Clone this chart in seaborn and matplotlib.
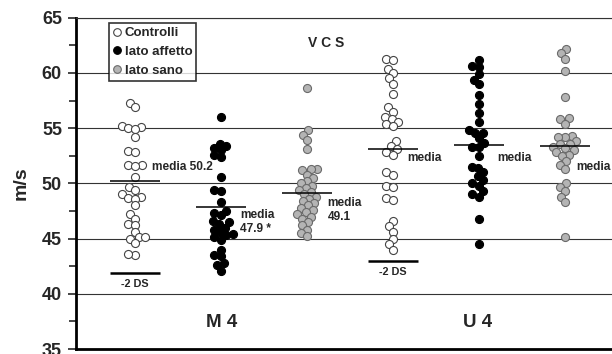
import numpy as np
import pandas as pd
import matplotlib
matplotlib.use("Agg")
import matplotlib.pyplot as plt
import seaborn as sns
from matplotlib.lines import Line2D

sns.set_theme(style="white")
plt.rcParams['font.family'] = ['Liberation Sans', 'DejaVu Sans']
plt.rcParams['font.weight'] = 'bold'

# ---- data ----
nerves = ["M 4", "U 4"]
groups = ["Controlli", "lato affetto", "lato sano"]

m4_controlli = [57.3, 56.9, 55.2, 55.1, 55.0, 54.9, 54.2, 52.9, 52.8, 51.7, 51.7, 51.6,
                50.6, 49.7, 49.4, 49.0, 48.8, 48.7, 48.6, 48.0, 47.2, 46.8, 46.3, 46.2,
                45.6, 45.1, 45.1, 45.0, 44.6, 43.5, 43.6]
m4_affetto = [56.0, 53.6, 53.4, 53.2, 53.0, 52.6, 52.4, 50.6, 49.4, 49.3, 48.3, 47.5,
              47.3, 47.1, 46.6, 46.5, 46.3, 46.0, 45.8, 45.6, 45.4, 45.3, 45.1, 44.9,
              44.0, 43.5, 43.4, 42.8, 42.6, 42.1]
m4_sano = [58.6, 54.8, 54.4, 53.9, 53.1, 51.3, 51.3, 51.2, 50.8, 50.5, 50.2, 50.0,
           49.8, 49.6, 49.4, 49.2, 49.0, 48.8, 48.6, 48.4, 48.2, 48.0, 47.8, 47.6,
           47.4, 47.2, 47.0, 46.8, 46.5, 46.2, 45.8, 45.5, 45.2]
u4_controlli = [61.3, 61.2, 60.4, 60.0, 59.5, 59.0, 58.1, 56.9, 56.5, 56.0, 55.8, 55.6,
                55.4, 55.2, 53.8, 53.4, 53.1, 52.8, 52.6, 51.0, 50.8, 49.8, 49.7, 48.7,
                48.5, 46.6, 46.1, 45.6, 45.0, 44.5, 44.0]
u4_affetto = [61.2, 60.6, 60.5, 59.9, 59.4, 59.0, 58.0, 57.2, 56.4, 55.6, 54.8, 54.6,
              54.6, 54.1, 53.7, 53.3, 53.3, 52.5, 51.5, 51.4, 51.0, 50.7, 50.3, 50.0,
              49.8, 49.3, 49.0, 48.8, 46.8, 44.5]
u4_sano = [62.2, 61.8, 61.3, 60.2, 57.8, 55.9, 55.8, 55.4, 54.3, 54.2, 54.2, 53.8,
           53.6, 53.6, 53.3, 53.2, 53.0, 52.8, 52.6, 52.5, 52.0, 51.7, 51.3, 50.0,
           49.7, 49.3, 48.8, 48.3, 45.1]

means = [50.2, 47.9, 49.1, 53.1, 53.5, 53.4]
mean_labels = ["media 50.2", "media\n47.9 *", "media\n49.1", "media", "media", "media"]
ds_values = {0: 41.9, 3: 43.0}   # -2 DS lines (Controlli)

series = {
    ("M 4", "Controlli"): m4_controlli,
    ("M 4", "lato affetto"): m4_affetto,
    ("M 4", "lato sano"): m4_sano,
    ("U 4", "Controlli"): u4_controlli,
    ("U 4", "lato affetto"): u4_affetto,
    ("U 4", "lato sano"): u4_sano,
}

rows = []
for (n, g), vals in series.items():
    for v in vals:
        rows.append({"col": f"{n} {g}", "nerve": n, "group": g, "value": v})
df = pd.DataFrame(rows)
order = [f"{n} {g}" for n in nerves for g in groups]

styles = {
    "Controlli": dict(color="white", edgecolor="#444444"),
    "lato affetto": dict(color="black", edgecolor="black"),
    "lato sano": dict(color="#b4b4b4", edgecolor="#6a6a6a"),
}

LAYOUT_SIZE = 3.9   # marker size used for swarm placement
SHOW_SIZE = 5.8     # marker size shown

fig = plt.figure(figsize=(6.12, 3.54), dpi=100)
ax = fig.add_axes([0.124, 0.014, 0.876, 0.936])

# grid lines
for yv in [40, 45, 50, 55, 60, 65]:
    ax.axhline(yv, color="#333333", lw=0.8, zorder=0)

for g in groups:
    sub = df[df["group"] == g]
    sns.swarmplot(data=sub, x="col", y="value", order=order, ax=ax,
                  size=LAYOUT_SIZE, linewidth=0.8, zorder=3, **styles[g])

ax.set_xlim(-0.686, 5.547)
ax.set_ylim(35, 65)
ax.set_xticks([])
ax.set_xlabel("")

# mean lines
pos = np.arange(len(order))
ax.hlines(means, pos - 0.29, pos + 0.29, color="black", lw=1.1, zorder=4)
for p, yv in ds_values.items():
    ax.hlines(yv, p - 0.29, p + 0.29, color="black", lw=1.8, zorder=4)
    ax.text(p, yv - 1.05, "-2 DS", ha="center", va="center", fontsize=7.8, fontweight="bold")

label_pos = [(0.20, 51.5), (1.22, 46.5), (2.24, 47.6), (3.17, 52.3), (4.21, 52.3), (5.13, 51.5)]
for (x, y), lab in zip(label_pos, mean_labels):
    ax.text(x, y, lab, ha="left", va="center", fontsize=8.6, fontweight="bold",
            linespacing=1.2, zorder=5)

ax.text(2.22, 62.7, "V C S", ha="center", va="center", fontsize=10, fontweight="bold")
ax.text(1.01, 37.4, "M 4", ha="center", va="center", fontsize=13.5, fontweight="bold")
ax.text(3.98, 37.4, "U 4", ha="center", va="center", fontsize=13.5, fontweight="bold")

# axes styling
ax.set_yticks([35, 40, 45, 50, 55, 60, 65])
ax.set_yticks(np.arange(37.5, 65, 5), minor=True)
ax.tick_params(axis="y", which="major", left=True, direction="out", length=6, width=1.2,
               labelsize=13, pad=4)
ax.tick_params(axis="y", which="minor", left=True, direction="out", length=5, width=1.2)
for t in ax.get_yticklabels():
    t.set_fontweight("bold")
ax.set_ylabel("m/s", fontsize=14, fontweight="bold", labelpad=9)

ax.spines["left"].set_linewidth(2.0)
ax.spines["left"].set_color("black")
ax.spines["bottom"].set_linewidth(2.0)
ax.spines["bottom"].set_color("black")
ax.spines["top"].set_linewidth(0.8)
ax.spines["top"].set_color("#333333")
ax.spines["right"].set_visible(False)

handles = [Line2D([], [], marker="o", linestyle="", markersize=5.5,
                  markerfacecolor=styles[g]["color"], markeredgecolor=styles[g]["edgecolor"],
                  markeredgewidth=0.8, label=g) for g in groups]
leg = ax.legend(handles=handles, loc="upper left", bbox_to_anchor=(0.0616, 0.984),
                borderaxespad=0, frameon=True, fancybox=False,
                handlelength=0.6, handletextpad=0.3, labelspacing=0.5, borderpad=0.3,
                prop={"weight": "bold", "size": 9.5})
leg.get_frame().set_edgecolor("black")
leg.get_frame().set_linewidth(1.2)
leg.set_zorder(6)

# place the swarm with the layout size, then show the markers larger
fig.canvas.draw()
for coll in ax.collections:
    if "draw" in coll.__dict__:
        del coll.draw
        coll.set_sizes([SHOW_SIZE ** 2])

fig.savefig("out.png", dpi=100)
